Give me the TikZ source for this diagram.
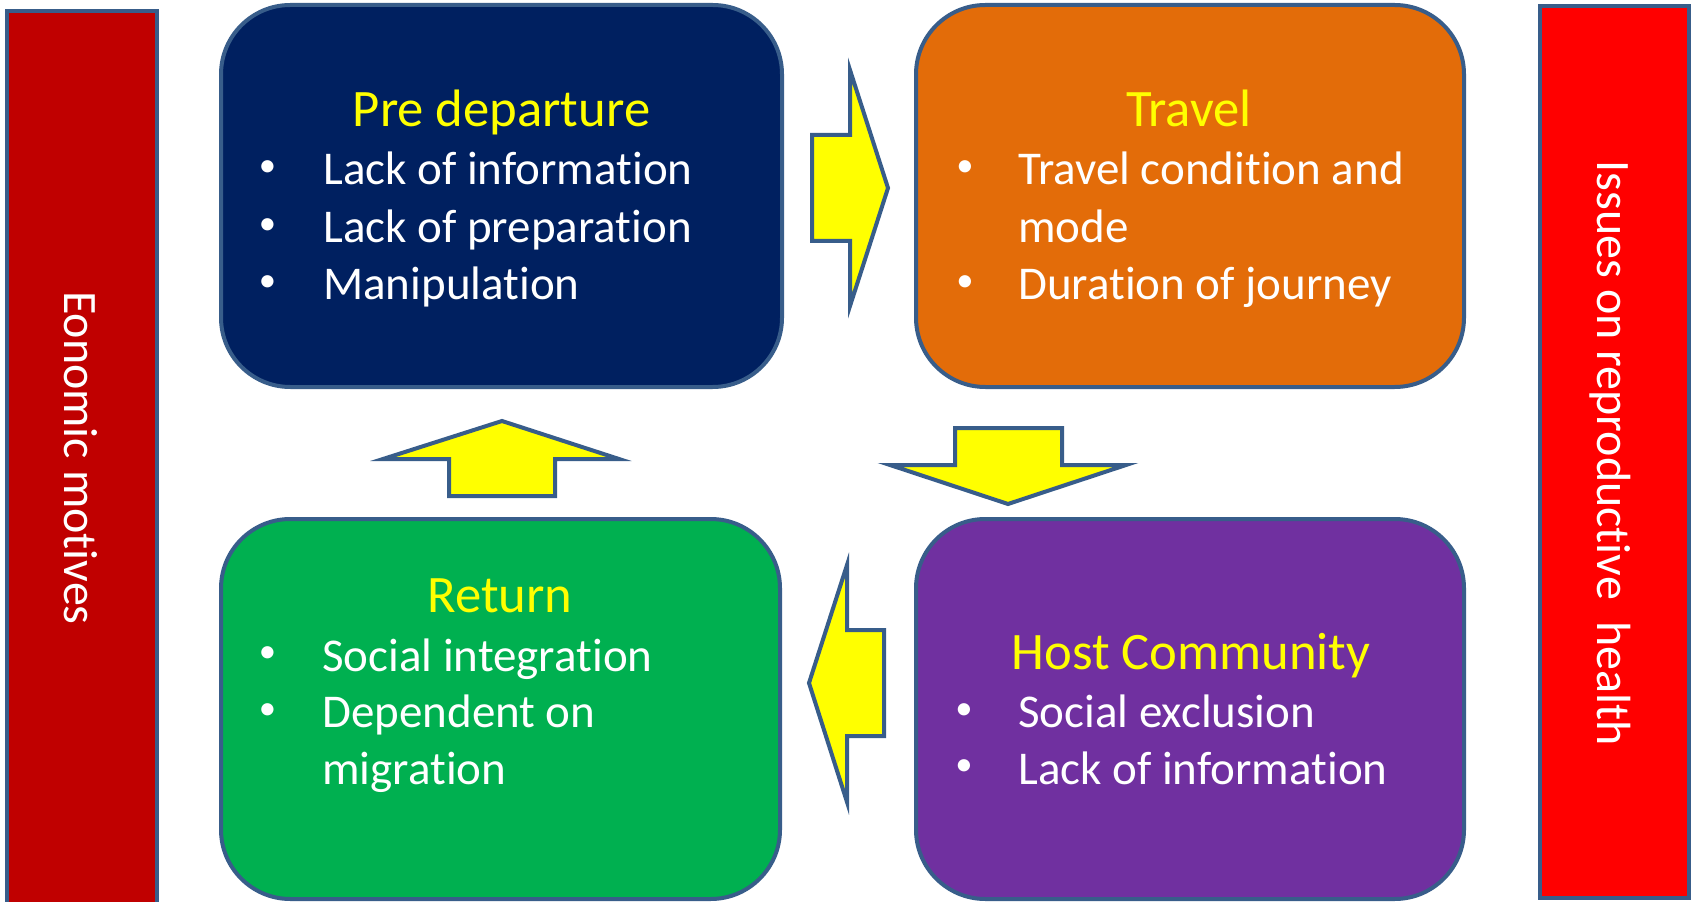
\documentclass[tikz,border=0pt]{standalone}
\usepackage{fontspec}
\setmainfont{Carlito}[RawFeature={-liga;-clig;-dlig;-calt}]
\usetikzlibrary{fit}
\definecolor{bordercol}{HTML}{385D8A}
\definecolor{darkredbar}{HTML}{C00000}
\definecolor{redbar}{HTML}{FF0000}
\definecolor{navybox}{HTML}{002060}
\definecolor{orangebox}{HTML}{E36C09}
\definecolor{greenbox}{HTML}{00B050}
\definecolor{purplebox}{HTML}{7030A0}
\definecolor{arrowyellow}{HTML}{FFFF00}
\definecolor{headyellow}{HTML}{FFFF00}
\begin{document}
\begin{tikzpicture}[x=0.75pt,y=-0.75pt,
  outl/.style={draw=bordercol, line width=3pt},
  barbox/.style={outl, inner sep=0pt},
  stagebox/.style={outl, rounded corners=52pt, inner sep=0pt},
  blockarrow/.style={outl, fill=arrowyellow, line join=miter},
  headtxt/.style={text=headyellow, font=\fontsize{39.5}{47}\selectfont, inner sep=0pt, anchor=base},
  itemtxt/.style={text=white, font=\fontsize{35.25}{42}\selectfont, inner sep=0pt, anchor=base west},
  bultxt/.style={text=white, font=\fontsize{26}{30}\selectfont, inner sep=0pt, anchor=center, yshift=16*0.75pt},
  vtxt/.style={text=white, font=\fontsize{36}{43}\selectfont, inner sep=0pt, anchor=base, rotate=-90}]
\useasboundingbox (0,0) rectangle (1692,902);
\fill[white] (0,0) rectangle (1692,902);
\begin{scope}
\clip (0,0) rectangle (1692,902);
% side bars
\node[barbox, fill=darkredbar, fit={(7,11) (157,915)}] (leftbar) {};
\node[barbox, fill=redbar, fit={(1540,6) (1689,898)}] (rightbar) {};
\end{scope}
\node[vtxt] (lefttxt) at (64,458) {Eonomic motives};
\node[vtxt] (righttxt) at (1597,453.5) {Issues on reproductive\ \ health};

% stage boxes
\node[stagebox, fill=navybox, fit={(221,5) (782,387)}] (pre) {};
\node[stagebox, fill=orangebox, fit={(916,5) (1464,387)}] (travel) {};
\node[stagebox, fill=greenbox, fit={(221,519) (780,899)}] (return) {};
\node[stagebox, fill=purplebox, fit={(916,519) (1464,899)}] (host) {};

% pre departure text
\node[headtxt] (preH) at (501.5,126.7) {Pre departure};
\node[bultxt] (preB1) at (267.5,185) {•};
\node[itemtxt] (preI1) at (323,185) {Lack of information};
\node[bultxt] (preB2) at (267.5,242.7) {•};
\node[itemtxt] (preI2) at (323,242.7) {Lack of preparation};
\node[bultxt] (preB3) at (267.5,300) {•};
\node[itemtxt] (preI3) at (323,300) {Manipulation};

% travel text
\node[headtxt] (travH) at (1189,126.7) {Travel};
\node[bultxt] (travB1) at (965,185) {•};
\node[itemtxt] (travI1) at (1018,185) {Travel condition and};
\node[itemtxt] (travI1b) at (1018,242.7) {mode};
\node[bultxt] (travB2) at (965,300) {•};
\node[itemtxt] (travI2) at (1018,300) {Duration of journey};

% return text
\node[headtxt] (retH) at (500,612.7) {Return};
\node[bultxt] (retB1) at (267.5,671) {•};
\node[itemtxt] (retI1) at (322,671) {Social integration};
\node[bultxt] (retB2) at (267.5,727.7) {•};
\node[itemtxt] (retI2) at (322,727.7) {Dependent on};
\node[itemtxt] (retI2b) at (322,784) {migration};

% host text
\node[headtxt] (hostH) at (1191,669.3) {Host Community};
\node[bultxt] (hostB1) at (964,727.7) {•};
\node[itemtxt] (hostI1) at (1018,727.7) {Social exclusion};
\node[bultxt] (hostB2) at (964,784) {•};
\node[itemtxt] (hostI2) at (1018,784) {Lack of information};

% block arrows
\draw[blockarrow] (812,135) -- (850,135) -- (850,70) -- (888,188) -- (850,306) -- (850,241) -- (812,241) -- cycle;
\draw[blockarrow] (955,428) -- (1062,428) -- (1062,465) -- (1126,465) -- (1008,504) -- (890,465) -- (955,465) -- cycle;
\draw[blockarrow] (884,630) -- (847,630) -- (847,565) -- (809,683) -- (847,802) -- (847,736) -- (884,736) -- cycle;
\draw[blockarrow] (449,496) -- (555,496) -- (555,459) -- (619,459) -- (502,421) -- (383,459) -- (449,459) -- cycle;
\end{tikzpicture}
\end{document}
